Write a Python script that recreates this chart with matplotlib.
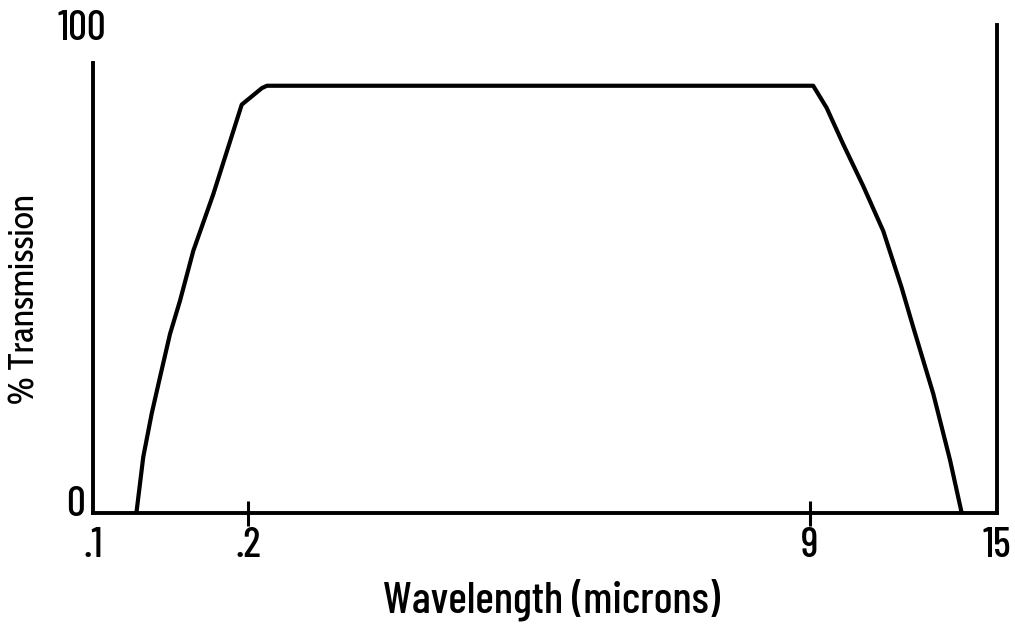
import numpy as np
import matplotlib

matplotlib.use('Agg')
import matplotlib.pyplot as plt
from matplotlib import transforms

narrow = ['Barlow Condensed', 'DejaVu Sans']
humanist = ['Cabin Condensed', 'DejaVu Sans']
plt.rcParams['font.family'] = narrow

# wavelength (microns) and % transmission
wavelength = [0.128, 0.13245, 0.13787, 0.14323, 0.14968, 0.15613, 0.16471, 0.17761,
              0.19594, 0.4192, 0.497,
              9.106, 9.536, 10.068, 10.710, 11.352, 11.942, 12.314, 12.956, 13.492, 13.867]
transmission = [0, 12.5, 22.1, 30.2, 39.8, 47.2, 58.3, 70.9,
                90.8, 94.5, 95.0,
                95.0, 90.1, 82.0, 72.7, 62.7, 50.1, 41.3, 26.5, 11.8, 0]

xtick_vals = [0.1, 0.2, 9, 15]
xtick_labels = ['.1', '.2', '9', '15']
ytick_vals = [0, 100]
ytick_labels = ['0', '100']

# the drawn axis is not to scale: each tick interval gets its own stretch
axis_pos = [0.0, 0.1715, 0.793, 1.0]


def fwd(w):
    return np.interp(w, xtick_vals, axis_pos)


def inv(p):
    return np.interp(p, axis_pos, xtick_vals)


fig = plt.figure(figsize=(10.15, 6.26), dpi=100)
ax = fig.add_axes([0.0916, 0.1805, 0.8907, 0.7795])
ax.set_xscale('function', functions=(fwd, inv))

ax.plot(wavelength, transmission, color='black', lw=3.0, solid_joinstyle='round')

ax.set_xlim(0.1, 15)
ax.set_ylim(0, 108.5)

for s in ['left', 'right', 'bottom']:
    ax.spines[s].set_linewidth(2.8)
ax.spines['top'].set_visible(False)
ax.spines['left'].set_bounds(0, 100)

ax.set_xticks(xtick_vals, xtick_labels)
ax.xaxis.set_minor_locator(matplotlib.ticker.NullLocator())
ax.tick_params(axis='x', direction='inout', length=18, width=2.2, pad=1, labelsize=30)
for i in (0, 3):
    ax.xaxis.get_major_ticks()[i].tick1line.set_visible(False)
for lab in ax.get_xticklabels():
    lab.set_fontweight(500)
ax.set_yticks([])

t0 = transforms.offset_copy(ax.transData, fig, x=-8, y=8, units='dots')
ax.text(0.1, ytick_vals[0], ytick_labels[0], transform=t0, ha='right', va='center',
        fontsize=30, fontweight=500)
t1 = transforms.offset_copy(ax.transData, fig, x=-11, y=15, units='dots')
ax.text(0.1, ytick_vals[1], ytick_labels[1], transform=t1, ha='center', va='bottom',
        fontsize=30, fontweight=500)

ax.set_xlabel('Wavelength (microns)', fontsize=32, fontweight=500)
ax.xaxis.set_label_coords(0.507, -0.135)
ax.set_ylabel('% Transmission', fontsize=26, family=humanist)
ax.yaxis.set_label_coords(-0.0545, 0.4385)

fig.savefig('out.png', dpi=100)
